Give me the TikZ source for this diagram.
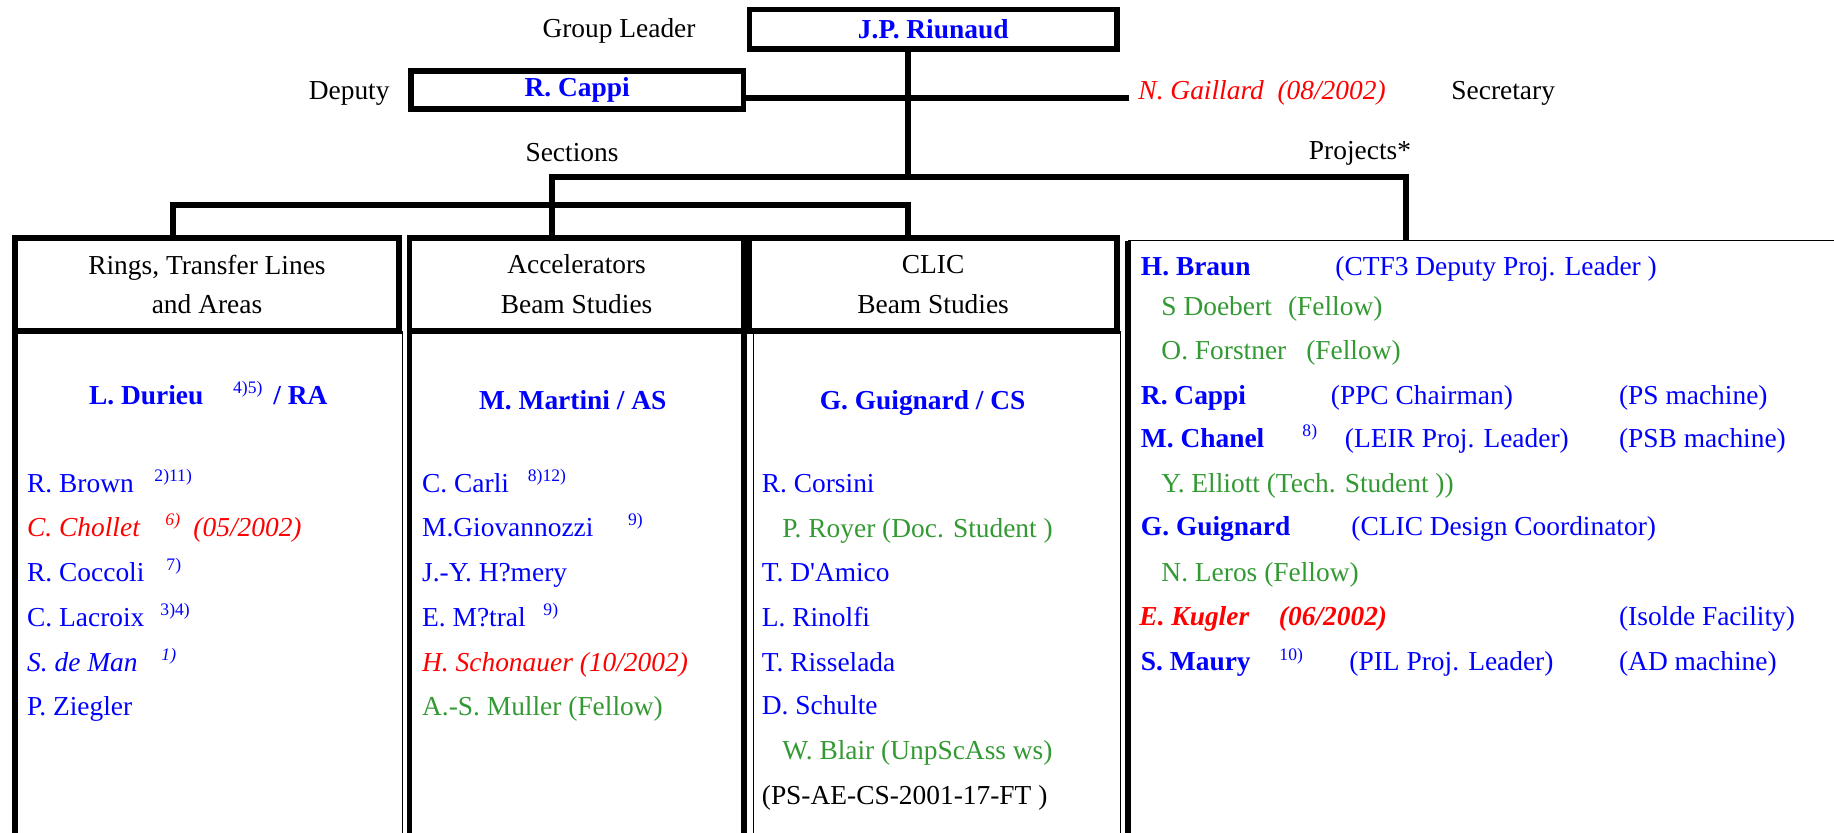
\documentclass[tikz,border=0pt]{standalone}
\usepackage{fontspec}
\setmainfont{Liberation Serif}
\usepackage{tikz}
\usetikzlibrary{positioning}
\definecolor{nameblue}{RGB}{0, 0, 255}
\definecolor{leavered}{RGB}{255, 0, 0}
\definecolor{fellowgreen}{RGB}{51, 153, 51}
\newcommand{\chartfont}{\fontsize{11.7}{14}\selectfont}
\newcommand{\headfont}{\fontsize{11.7}{17}\selectfont}
\newcommand{\notefont}{\fontsize{7.5}{9}\selectfont}

\tikzset{
  heavyline/.style={line width=0.085cm},
  hairline/.style={line width=0.6pt},
  unitbox/.style={draw, heavyline, inner sep=0pt, outer sep=0pt, align=center},
  sectionbox/.style={unitbox, minimum height=1.395cm, font=\headfont},
  tag/.style={inner sep=0pt, text height=7.8pt, text depth=0pt, font=\chartfont},
  entry/.style={tag, anchor=west, text=nameblue},
  lead/.style={entry, font=\chartfont\bfseries},
  leaving/.style={entry, text=leavered, font=\chartfont\itshape},
  fellow/.style={entry, text=fellowgreen},
  note/.style={inner sep=0pt, anchor=west, text height=5pt, text depth=0pt, text=nameblue, font=\notefont}
}

\begin{document}
\begin{tikzpicture}[x=0.015cm, y=-0.015cm]

  \useasboundingbox (0, 0) rectangle (1834, 833);

  % leader, deputy, secretary
  \node[tag] (leaderlabel) at (619, 28) {Group Leader};
  \node[unitbox, minimum width=5.51cm, minimum height=0.59cm, text=nameblue, font=\chartfont\bfseries] (leader) at (933.25, 29.25) {J.P. Riunaud};
  \node[tag, anchor=east] (deputylabel) at (390, 90) {Deputy};
  \node[unitbox, minimum width=4.99cm, minimum height=0.57cm, text=nameblue, font=\chartfont\bfseries] (deputy) at (577.25, 90) {R. Cappi};
  \node[leaving] (secretary) at (1138, 90) {N. Gaillard\ \ (08/2002)};
  \node[tag, anchor=west] (secretarylabel) at (1451, 90) {Secretary};
  \node[tag] (sectionslabel) at (572, 152) {Sections};
  \node[tag] (projectslabel) at (1360, 150) {Projects*};

  \coordinate (trunk) at (908, 177);
  \coordinate (sectionsend) at (552, 177);
  \coordinate (projectsend) at (1406, 177);
  \coordinate (secretaryend) at (1129, 98);
  \coordinate (ringsend) at (173, 205);
  \coordinate (clicend) at (908, 205);
  \coordinate (projects) at (1128, 240.7);
  \coordinate (projectsright) at (1834, 240.7);
  \coordinate (bottom) at (0, 833);

  % section heads
  \node[sectionbox, minimum width=5.76cm] (rings) at (207, 284.5) {Rings, Transfer Lines\\and Areas};
  \node[sectionbox, minimum width=5.014cm] (accel) at (576.6, 284.5) {Accelerators\\Beam Studies};
  \node[sectionbox, minimum width=5.516cm] (clic) at (933.1, 284.5) {CLIC\\Beam Studies};

  % connectors
  \draw[heavyline] (leader.south -| trunk) -- (trunk);
  \draw[heavyline] (deputy.east |- secretaryend) -- (secretaryend);
  \draw[heavyline] (sectionsend |- accel.north) -- (sectionsend) -- (projectsend) -- (projectsend |- projects);
  \draw[heavyline] (rings.north -| ringsend) -- (ringsend) -- (clicend) -- (clicend |- clic.north);

  % column sides
  \draw[heavyline] (rings.south west) -- (rings.south west |- bottom);
  \draw[hairline] (402.5, 331) -- (402.5, 833);
  \draw[heavyline] (accel.south west) -- (accel.south west |- bottom);
  \draw[heavyline] (accel.south east) -- (accel.south east |- bottom);
  \draw[hairline] (753.5, 331) -- (753.5, 833);
  \draw[hairline] (1120.5, 331) -- (1120.5, 833);
  \draw[hairline] (projects) -- (projectsright);
  \draw[heavyline] (projects) -- (projects |- bottom);

  % rings, transfer lines and areas
  \node[lead] (durieu) at (88.7, 395) {L. Durieu};
  \node[note] (durieunote) at (232.7, 388) {4)5)};
  \node[lead] (ra) at (273, 395) {/ RA};
  \node[entry] (brown) at (26.7, 483) {R. Brown};
  \node[note] (brownnote) at (154, 476) {2)11)};
  \node[leaving] (chollet) at (26.7, 527.3) {C. Chollet};
  \node[note, text=leavered, font=\notefont\itshape] (cholletnote) at (165, 520) {6)};
  \node[leaving] (cholletdate) at (193, 527.3) {(05/2002)};
  \node[entry] (coccoli) at (26.7, 572) {R. Coccoli};
  \node[note] (coccolinote) at (166, 565) {7)};
  \node[entry] (lacroix) at (26.7, 617) {C. Lacroix};
  \node[note] (lacroixnote) at (160, 610) {3)4)};
  \node[entry, font=\chartfont\itshape] (deman) at (26.7, 662) {S. de Man};
  \node[note, font=\notefont\itshape] (demannote) at (161, 655) {1)};
  \node[entry] (ziegler) at (26.7, 706) {P. Ziegler};

  % accelerators beam studies
  \node[lead, anchor=center] (martini) at (572.7, 400) {M. Martini / AS};
  \node[entry] (carli) at (421.7, 483) {C. Carli};
  \node[note] (carlinote) at (527.4, 476) {8)12)};
  \node[entry] (giovannozzi) at (421.7, 527.3) {M.Giovannozzi};
  \node[note] (giovannozzinote) at (627.7, 520) {9)};
  \node[entry] (hemery) at (421.7, 572) {J.-Y. H?mery};
  \node[entry] (metral) at (421.7, 617) {E. M?tral};
  \node[note] (metralnote) at (543, 610) {9)};
  \node[leaving] (schonauer) at (421.7, 662) {H. Schonauer (10/2002)};
  \node[fellow] (muller) at (421.7, 706) {A.-S. Muller (Fellow)};

  % clic beam studies
  \node[lead, anchor=center] (guignard) at (922.6, 400) {G. Guignard / CS};
  \node[entry] (corsini) at (761.4, 483) {R. Corsini};
  \node[fellow] (royer) at (782, 528) {P. Royer (Doc. Student )};
  \node[entry] (damico) at (761.4, 572.7) {T. D\textquotesingle Amico};
  \node[entry] (rinolfi) at (761.4, 617) {L. Rinolfi};
  \node[entry] (risselada) at (761.4, 662) {T. Risselada};
  \node[entry] (schulte) at (761.4, 705) {D. Schulte};
  \node[fellow] (blair) at (782, 750) {W. Blair (UnpScAss ws)};
  \node[entry, text=black] (cslink) at (761.4, 795) {(PS-AE-CS-2001-17-FT )};

  % projects
  \node[lead] (braun) at (1140.5, 266.7) {H. Braun};
  \node[entry] (braunrole) at (1335, 266.7) {(CTF3 Deputy Proj. Leader )};
  \node[fellow] (doebert) at (1161, 306.7) {S Doebert};
  \node[fellow] (doebertrole) at (1287.6, 306.7) {(Fellow)};
  \node[fellow] (forstner) at (1161, 350) {O. Forstner};
  \node[fellow] (forstnerrole) at (1305.8, 350) {(Fellow)};
  \node[lead] (cappi) at (1140.5, 395) {R. Cappi};
  \node[entry] (cappirole) at (1330.4, 395) {(PPC Chairman)};
  \node[entry] (cappimachine) at (1618.6, 395) {(PS machine)};
  \node[lead] (chanel) at (1140.5, 438.3) {M. Chanel};
  \node[note] (chanelnote) at (1302, 431) {8)};
  \node[entry] (chanelrole) at (1344.5, 438.3) {(LEIR Proj. Leader)};
  \node[entry] (chanelmachine) at (1618.6, 438.3) {(PSB machine)};
  \node[fellow] (elliott) at (1161, 483.3) {Y. Elliott (Tech. Student ))};
  \node[lead] (guignardp) at (1140.5, 526.7) {G. Guignard};
  \node[entry] (guignardrole) at (1351, 526.7) {(CLIC Design Coordinator)};
  \node[fellow] (leros) at (1161, 572.7) {N. Leros (Fellow)};
  \node[leaving, font=\chartfont\bfseries\itshape] (kugler) at (1139, 616.7) {E. Kugler};
  \node[leaving, font=\chartfont\bfseries\itshape] (kuglerdate) at (1278.5, 616.7) {(06/2002)};
  \node[entry] (kuglermachine) at (1618.6, 616.7) {(Isolde Facility)};
  \node[lead] (maury) at (1140.5, 661.7) {S. Maury};
  \node[note] (maurynote) at (1279, 654.5) {10)};
  \node[entry] (mauryrole) at (1349, 661.7) {(PIL Proj. Leader)};
  \node[entry] (maurymachine) at (1618.6, 661.7) {(AD machine)};

\end{tikzpicture}
\end{document}
